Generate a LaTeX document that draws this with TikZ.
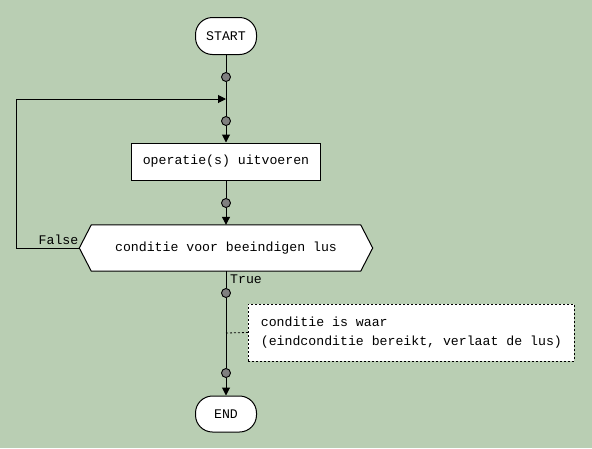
\documentclass[tikz,border=0pt]{standalone}
\usepackage{fontspec}
\newfontfamily\cour{Liberation Mono}
\usetikzlibrary{arrows.meta,calc}
\definecolor{bg}{RGB}{185,206,179}
\definecolor{dotgray}{RGB}{128,128,128}
\begin{document}
\begin{tikzpicture}[x=1pt,y=-1pt,
 every node/.style={font=\cour\fontsize{13.2}{19}\selectfont, inner sep=0pt},
 term/.style={draw, fill=white, rounded corners=17pt, minimum width=61pt, minimum height=37pt, line width=1pt},
 proc/.style={draw, fill=white, minimum width=189pt, minimum height=37pt, line width=1pt},
 hexbox/.style={minimum width=269pt, minimum height=46pt},
 dot/.style={circle, draw, fill=dotgray, minimum size=9pt, line width=0.9pt},
 flow/.style={line width=1pt, -{Triangle[length=8pt,width=8pt]}},
 conn/.style={line width=1pt},
 note/.style={draw, fill=white, line width=0.8pt, dash pattern=on 2pt off 2pt, align=left, minimum width=326pt, minimum height=57pt},
 lbl/.style={font=\cour\fontsize{13.2}{16}\selectfont}
]
\fill[bg] (0,0) rectangle (592,448);
\useasboundingbox (0,0) rectangle (592,448);

\node[term] (start) at (226,36) {START};
\node[dot] (d1) at (226,77) {};
\coordinate (j) at (226,99);
\node[dot] (d2) at (226,121) {};
\node[proc] (op) at (226,161.5) {operatie(s) uitvoeren};
\node[dot] (d3) at (226,203) {};
\node[hexbox] (hex) at (226,248) {};
\draw[fill=white, line width=1pt] (hex.north west) -- (hex.north east) -- ($(hex.east)+(12,0)$) -- (hex.south east) -- (hex.south west) -- ($(hex.west)+(-12,0)$) -- cycle;
\node at (hex.center) {conditie voor beeindigen lus};
\coordinate (hexL) at ($(hex.west)+(-12,0)$);
\node[dot] (d4) at (226,293) {};
\node[dot] (d5) at (226,373) {};
\node[term, minimum height=36pt] (end) at (226,414) {END};
\node[note, anchor=west] (nt) at (248,332.5) {conditie is waar\\(eindconditie bereikt, verlaat de lus)};
\coordinate (tap) at (226,333);

\draw[conn] (start.south) -- (d1);
\draw[conn] (d1) -- (j);
\draw[conn] (j) -- (d2);
\draw[flow] (d2) -- (op.north);
\draw[conn] (op.south) -- (d3);
\draw[flow] (d3) -- (hex.north);
\draw[conn] (hex.south) -- (d4);
\draw[conn] (d4) -- (d5);
\draw[flow] (d5) -- (end.north);
\draw[flow] (hexL) -- ++(-63,0) |- (j);
\draw[line width=0.8pt, dash pattern=on 2pt off 2pt] (tap) -- (nt.west);

\node[lbl, anchor=east] (lf) at (78.5,240) {False};
\node[lbl, anchor=west] (lt) at (230,279) {True};
\end{tikzpicture}
\end{document}
